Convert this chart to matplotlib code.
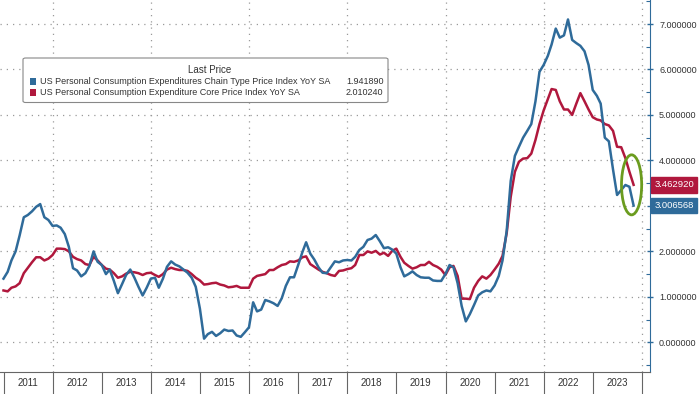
import numpy as np
import pandas as pd
import matplotlib
matplotlib.use('Agg')
import matplotlib.pyplot as plt
import matplotlib.dates as mdates
from matplotlib.patches import Ellipse, FancyBboxPatch, Rectangle
from matplotlib.ticker import MultipleLocator, FuncFormatter

plt.rcParams['font.family'] = ['Liberation Sans', 'DejaVu Sans']

# monthly data, Dec 2010 .. Oct 2023
start_month = '2010-12-01'

pce_headline = [
    1.40,
    1.55, 1.80, 2.00, 2.35, 2.75, 2.80, 2.88, 2.98, 3.04, 2.75, 2.69, 2.56,  # 2011
    2.57, 2.52, 2.38, 2.10, 1.63, 1.58, 1.45, 1.52, 1.68, 2.00, 1.77, 1.70,  # 2012
    1.50, 1.60, 1.35, 1.08, 1.28, 1.48, 1.60, 1.42, 1.22, 1.03, 1.20, 1.40,  # 2013
    1.42, 1.20, 1.40, 1.66, 1.78, 1.71, 1.67, 1.60, 1.53, 1.42, 1.22, 0.74,  # 2014
    0.08, 0.18, 0.23, 0.14, 0.20, 0.28, 0.25, 0.26, 0.15, 0.12, 0.22, 0.33,  # 2015
    0.88, 0.68, 0.72, 0.93, 0.90, 0.86, 0.80, 0.97, 1.24, 1.43, 1.43, 1.70,  # 2016
    1.98, 2.20, 1.95, 1.82, 1.65, 1.53, 1.52, 1.65, 1.78, 1.76, 1.80, 1.81,  # 2017
    1.80, 1.88, 2.03, 2.10, 2.25, 2.28, 2.36, 2.22, 2.07, 2.09, 2.04, 1.95,  # 2018
    1.65, 1.45, 1.50, 1.56, 1.48, 1.43, 1.42, 1.42, 1.36, 1.35, 1.35, 1.50,  # 2019
    1.70, 1.65, 1.30, 0.80, 0.46, 0.62, 0.82, 1.03, 1.10, 1.14, 1.12, 1.25,  # 2020
    1.46, 1.80, 2.45, 3.55, 4.10, 4.30, 4.50, 4.65, 4.80, 5.30, 5.95, 6.10,  # 2021
    6.30, 6.55, 6.90, 6.70, 6.75, 7.10, 6.65, 6.58, 6.52, 6.40, 6.10, 5.55,  # 2022
    5.42, 5.25, 4.50, 4.42, 3.80, 3.24, 3.35, 3.46, 3.42, 3.006568,          # 2023
]

pce_core = [
    1.14,
    1.12, 1.20, 1.23, 1.30, 1.52, 1.64, 1.76, 1.87, 1.87, 1.80, 1.84, 1.92,  # 2011
    2.06, 2.06, 2.05, 2.00, 1.88, 1.83, 1.80, 1.72, 1.70, 1.88, 1.80, 1.70,  # 2012
    1.62, 1.60, 1.52, 1.42, 1.45, 1.51, 1.55, 1.54, 1.52, 1.48, 1.52, 1.53,  # 2013
    1.48, 1.44, 1.50, 1.60, 1.64, 1.61, 1.59, 1.59, 1.57, 1.50, 1.42, 1.36,  # 2014
    1.27, 1.28, 1.30, 1.31, 1.27, 1.25, 1.21, 1.22, 1.24, 1.20, 1.20, 1.20,  # 2015
    1.40, 1.46, 1.48, 1.50, 1.59, 1.59, 1.65, 1.70, 1.72, 1.78, 1.77, 1.80,  # 2016
    1.87, 1.89, 1.72, 1.66, 1.60, 1.55, 1.52, 1.48, 1.46, 1.57, 1.58, 1.61,  # 2017
    1.63, 1.70, 1.92, 1.92, 2.00, 1.97, 2.01, 1.93, 1.97, 1.90, 2.01, 2.06,  # 2018
    1.88, 1.75, 1.68, 1.62, 1.65, 1.70, 1.70, 1.77, 1.70, 1.66, 1.60, 1.48,  # 2019
    1.65, 1.68, 1.46, 0.96, 0.96, 0.95, 1.20, 1.35, 1.45, 1.40, 1.48, 1.60,  # 2020
    1.73, 1.90, 2.40, 3.20, 3.75, 3.97, 4.04, 4.05, 4.15, 4.45, 4.80, 5.10,  # 2021
    5.35, 5.57, 5.55, 5.30, 5.12, 5.12, 5.00, 5.25, 5.48, 5.30, 5.12, 4.95,  # 2022
    4.90, 4.88, 4.80, 4.77, 4.65, 4.30, 4.29, 4.05, 3.75, 3.462920,          # 2023
]

legend_names = [
    'US Personal Consumption Expenditures Chain Type Price Index YoY SA',
    'US Personal Consumption Expenditure Core Price Index YoY SA',
]
legend_values = ['1.941890', '2.010240']
last_values = ['3.006568', '3.462920']

blue = '#2f6b9a'
red = '#b0183d'
green = '#6b9c1f'
grid_col = '#9a9a9a'

dates = pd.date_range(start_month, periods=len(pce_headline), freq='MS') + pd.offsets.MonthEnd(0)

fig = plt.figure(figsize=(7, 3.94), dpi=100)
ax = fig.add_axes([0, 22 / 394, 650 / 700, 372 / 394])

ax.plot(dates, pce_core, color=red, lw=1.8, zorder=3)
ax.plot(dates, pce_headline, color=blue, lw=1.8, zorder=4)

ax.set_xlim(pd.Timestamp('2010-12-05'), pd.Timestamp('2024-03-01'))
ax.set_ylim(-0.653, 7.528)


def ylab(v, pos):
    # the 3.0 label sits under the last-value tag in the original
    if abs(v - 3) < 1e-9:
        return ''
    return f'{v:.6f}'


# right hand value axis
ax.yaxis.tick_right()
ax.yaxis.set_major_locator(MultipleLocator(1))
ax.yaxis.set_minor_locator(MultipleLocator(0.5))
ax.yaxis.set_major_formatter(FuncFormatter(ylab))
ax.tick_params(axis='y', which='major', direction='inout', length=5, width=1,
               color=blue, labelcolor='#333333', labelsize=6.5, pad=4)
ax.tick_params(axis='y', which='minor', direction='in', length=3, width=0.8, color=blue)

# year strip along the bottom
ax.xaxis.set_major_locator(mdates.YearLocator())
ax.xaxis.set_major_formatter(plt.NullFormatter())
ax.xaxis.set_minor_locator(mdates.MonthLocator(bymonth=7, bymonthday=1))
ax.xaxis.set_minor_formatter(mdates.DateFormatter('%Y'))
ax.tick_params(axis='x', which='major', direction='out', length=16, width=0.8, color='#666666')
ax.tick_params(axis='x', which='minor', length=0, labelsize=7, labelcolor='#333333', pad=4)

for s in ['top', 'left']:
    ax.spines[s].set_visible(False)
ax.spines['right'].set_color(blue)
ax.spines['bottom'].set_color('#666666')
ax.spines['bottom'].set_linewidth(0.8)

ax.grid(axis='y', which='major', color=grid_col, lw=0.9, ls=(0, (1, 4)))
for yr in range(2012, 2025, 2):
    ax.axvline(pd.Timestamp(f'{yr}-01-01'), color=grid_col, lw=0.9, ls=(0, (1, 4)), zorder=1)

# last value tags
for val, txt, col in [(pce_core[-1], last_values[1], red), (pce_headline[-1], last_values[0], blue)]:
    ax.annotate(txt, xy=(1, val), xycoords=('axes fraction', 'data'),
                xytext=(3, 0), textcoords='offset points', ha='left', va='center',
                fontsize=6.8, color='white', annotation_clip=False,
                bbox=dict(boxstyle='square,pad=0.35', fc=col, ec=col))

# highlight ellipse around the latest readings
xc = mdates.date2num(dates[-1]) - 15
ax.add_patch(Ellipse((xc, pce_core[-1]), width=150, height=1.32,
                     fill=False, ec=green, lw=2, zorder=5))

# legend box
box = FancyBboxPatch((23 / 650, 1 - 102.5 / 372), (388 - 23) / 650, (102.5 - 58) / 372,
                     boxstyle='round,pad=0,rounding_size=0.004', transform=ax.transAxes,
                     fc='white', ec='#888888', lw=0.8, zorder=6)
ax.add_patch(box)
ax.text(210 / 650, 1 - 70 / 372, 'Last Price', transform=ax.transAxes, ha='center', va='center',
        fontsize=7, color='#333333', zorder=7)
for i, (name, val, col) in enumerate(zip(legend_names, legend_values, [blue, red])):
    yy = 1 - (81.7 + 11 * i) / 372
    ax.add_patch(Rectangle((29.5 / 650, yy - 3.5 / 372), 6.5 / 650, 7 / 372,
                           transform=ax.transAxes, fc=col, ec='none', zorder=7))
    ax.text(40.5 / 650, yy, name, transform=ax.transAxes, ha='left', va='center',
            fontsize=6.5, color='#333333', zorder=7)
    ax.text(383.5 / 650, yy, val, transform=ax.transAxes, ha='right', va='center',
            fontsize=6.5, color='#333333', zorder=7)

fig.savefig('out.png', dpi=100)
